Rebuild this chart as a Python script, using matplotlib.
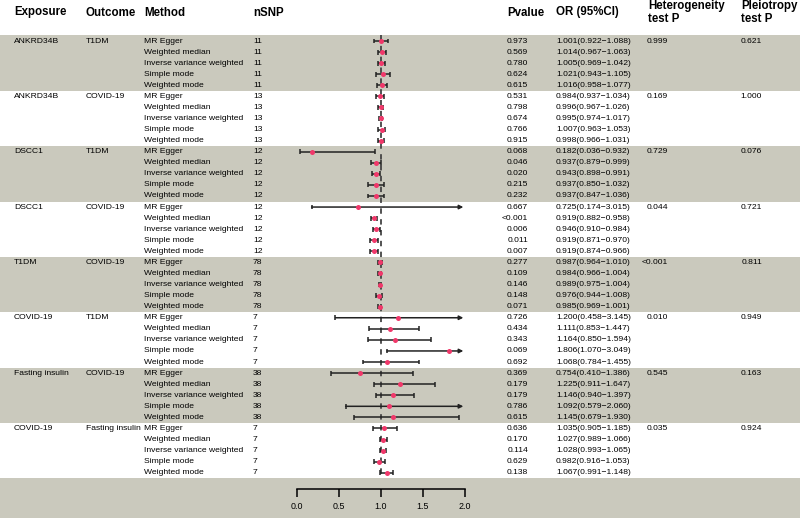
import numpy as np
import matplotlib
matplotlib.use("Agg")
import matplotlib.pyplot as plt

plt.rcParams['font.family'] = ['Liberation Sans', 'DejaVu Sans']

# ---------------------------------------------------------------- data
exposures = ["ANKRD34B", "ANKRD34B", "DSCC1", "DSCC1", "T1DM", "COVID-19", "Fasting insulin", "COVID-19"]
outcomes = ["T1DM", "COVID-19", "T1DM", "COVID-19", "COVID-19", "T1DM", "COVID-19", "Fasting insulin"]
methods = ["MR Egger", "Weighted median", "Inverse variance weighted", "Simple mode", "Weighted mode"]
nsnp = [11, 13, 12, 12, 78, 7, 38, 7]
het_p = ["0.999", "0.169", "0.729", "0.044", "<0.001", "0.010", "0.545", "0.035"]
pleio_p = ["0.621", "1.000", "0.076", "0.721", "0.811", "0.949", "0.163", "0.924"]

pvalues = ["0.973", "0.569", "0.780", "0.624", "0.615",
           "0.531", "0.798", "0.674", "0.766", "0.915",
           "0.068", "0.046", "0.020", "0.215", "0.232",
           "0.667", "<0.001", "0.006", "0.011", "0.007",
           "0.277", "0.109", "0.146", "0.148", "0.071",
           "0.726", "0.434", "0.343", "0.069", "0.692",
           "0.369", "0.179", "0.179", "0.786", "0.615",
           "0.636", "0.170", "0.114", "0.629", "0.138"]
odds = [1.001, 1.014, 1.005, 1.021, 1.016,
        0.984, 0.996, 0.995, 1.007, 0.998,
        0.182, 0.937, 0.943, 0.937, 0.937,
        0.725, 0.919, 0.946, 0.919, 0.919,
        0.987, 0.984, 0.989, 0.976, 0.985,
        1.200, 1.111, 1.164, 1.806, 1.068,
        0.754, 1.225, 1.146, 1.092, 1.145,
        1.035, 1.027, 1.028, 0.982, 1.067]
lower = [0.922, 0.967, 0.969, 0.943, 0.958,
         0.937, 0.967, 0.974, 0.963, 0.966,
         0.036, 0.879, 0.898, 0.850, 0.847,
         0.174, 0.882, 0.910, 0.871, 0.874,
         0.964, 0.966, 0.975, 0.944, 0.969,
         0.458, 0.853, 0.850, 1.070, 0.784,
         0.410, 0.911, 0.940, 0.579, 0.679,
         0.905, 0.989, 0.993, 0.916, 0.991]
upper = [1.088, 1.063, 1.042, 1.105, 1.077,
         1.034, 1.026, 1.017, 1.053, 1.031,
         0.932, 0.999, 0.991, 1.032, 1.036,
         3.015, 0.958, 0.984, 0.970, 0.966,
         1.010, 1.004, 1.004, 1.008, 1.001,
         3.145, 1.447, 1.594, 3.049, 1.455,
         1.386, 1.647, 1.397, 2.060, 1.930,
         1.185, 1.066, 1.065, 1.053, 1.148]

GREY = '#cac9bd'
PINK = '#f0386a'
LINE = '#222222'
W, H = 800, 518
X0, PXU = 297, 84.0        # pixel of OR=0 and pixels per unit
Y0, PITCH = 41, 11.07      # pixel of first row and row pitch
XMAX = 2.0

fig = plt.figure(figsize=(W / 100, H / 100), dpi=100)
ax = fig.add_axes([0, 0, 1, 1])
ax.set_xlim(-X0 / PXU, (W - X0) / PXU)
ax.set_ylim((H - Y0) / PITCH, -Y0 / PITCH)
nrows = len(odds)

# background bands
for g in range(len(exposures)):
    if g % 2 == 0:
        ax.axhspan(g * 5 - 0.5, g * 5 + 4.5, color=GREY, lw=0, zorder=0)
ax.axhspan(nrows - 0.5, (H - Y0) / PITCH, color=GREY, lw=0, zorder=0)

# header
fs_h = 8.3
def header(px, py, s):
    fig.text(px / W, 1 - py / H, s, fontsize=fs_h, fontweight='bold', va='center', ha='left')
header(14, 12.5, "Exposure")
header(86, 12.5, "Outcome")
header(144, 12.5, "Method")
header(253, 12.5, "nSNP")
header(507, 12.5, "Pvalue")
header(556, 12.5, "OR (95%CI)")
header(648, 5.5, "Heterogeneity")
header(648, 19.5, "test P")
header(741, 5.5, "Pleiotropy")
header(741, 19.5, "test P")

# table body
tr = ax.get_yaxis_transform()
fs = 6.1
for i in range(nrows):
    g, m = divmod(i, 5)
    if m == 0:
        ax.text(14 / W, i, exposures[g], transform=tr, fontsize=fs, va='center')
        ax.text(86 / W, i, outcomes[g], transform=tr, fontsize=fs, va='center')
        ax.text(668 / W, i, het_p[g], transform=tr, fontsize=fs, va='center', ha='right')
        ax.text(762 / W, i, pleio_p[g], transform=tr, fontsize=fs, va='center', ha='right')
    ax.text(144 / W, i, methods[m], transform=tr, fontsize=fs, va='center')
    ax.text(253 / W, i, str(nsnp[g]), transform=tr, fontsize=fs, va='center')
    ax.text(528 / W, i, pvalues[i], transform=tr, fontsize=fs, va='center', ha='right')
    ax.text(556 / W, i, "%.3f(%.3f\u2212%.3f)" % (odds[i], lower[i], upper[i]),
            transform=tr, fontsize=fs, va='center')

# reference line
ax.vlines(1, -0.5, nrows - 0.5, colors='#444444', linestyles=(0, (3, 3)), lw=1.3, zorder=2)

# confidence intervals
cap = 0.22
for i in range(nrows):
    lo, hi = lower[i], upper[i]
    ax.vlines(lo, i - cap, i + cap, colors=LINE, lw=1.1, zorder=3)
    if hi > XMAX:
        ax.annotate("", xy=(XMAX - 0.02, i), xytext=(lo, i),
                    arrowprops=dict(arrowstyle='-|>', lw=1.1, color=LINE,
                                    mutation_scale=6, shrinkA=0, shrinkB=0), zorder=3)
    else:
        ax.hlines(i, lo, hi, colors=LINE, lw=1.1, zorder=3)
        ax.vlines(hi, i - cap, i + cap, colors=LINE, lw=1.1, zorder=3)
ax.plot(odds, range(nrows), 'o', color=PINK, ms=3.6, mec='none', zorder=4)

# x axis at the bottom
for s in ['top', 'right', 'left']:
    ax.spines[s].set_visible(False)
ax.spines['bottom'].set_position(('data', (489 - Y0) / PITCH))
ax.spines['bottom'].set_bounds(0, 2)
ax.spines['bottom'].set_linewidth(1.1)
ax.set_xticks([0, 0.5, 1.0, 1.5, 2.0])
ax.set_xticklabels(["0.0", "0.5", "1.0", "1.5", "2.0"])
ax.tick_params(axis='x', direction='out', length=6, width=1.1, labelsize=6.4, pad=3)
ax.set_yticks([])
ax.patch.set_alpha(0)

fig.savefig("out.png", dpi=100)
